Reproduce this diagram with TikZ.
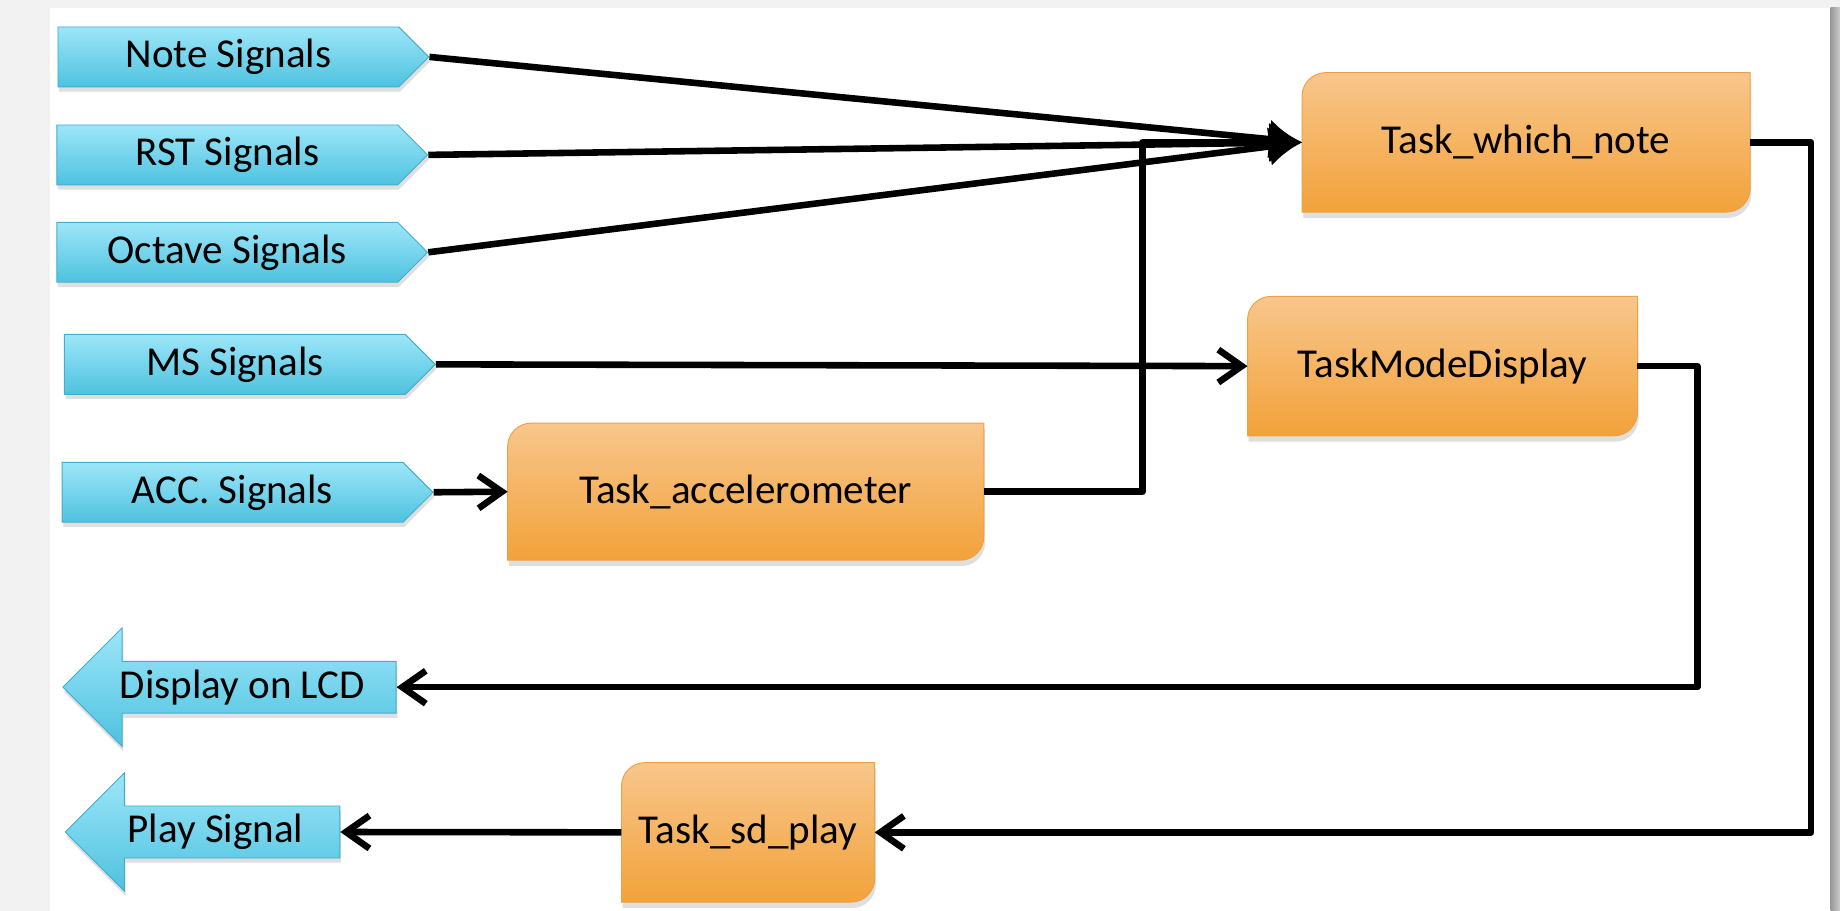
\documentclass[tikz,border=0pt]{standalone}
\usepackage{fontspec}
\setmainfont{Carlito}
\usepackage{tikz}
\usetikzlibrary{shapes.symbols,shapes.arrows,arrows.meta,shadows,backgrounds}

\definecolor{sigtop}{HTML}{9DE6F8}
\definecolor{sigbot}{HTML}{4EC2E0}
\definecolor{sigline}{HTML}{45ACCC}
\definecolor{tasktop}{HTML}{F8C68C}
\definecolor{taskbot}{HTML}{F2A23A}
\definecolor{taskline}{HTML}{EFA043}

\begin{document}
\begin{tikzpicture}[x=0.5pt,y=-0.5pt,
    nodes={font=\fontsize{17.5}{20}\selectfont},
    sig/.style={signal,signal to=east,draw=sigline,top color=sigtop,bottom color=sigbot,
        minimum width=158pt,minimum height=25.5pt,inner sep=2pt,anchor=west,
        drop shadow={shadow xshift=0.5pt,shadow yshift=-2pt,opacity=.25}},
    outarrow/.style={single arrow,shape border rotate=180,draw=sigline,top color=sigtop,bottom color=sigbot,
        single arrow head extend=12.5pt,minimum width=50.5pt,inner sep=2pt,anchor=tip,
        drop shadow={shadow xshift=0.5pt,shadow yshift=-2pt,opacity=.25}},
    task/.style={minimum height=59pt,inner sep=0pt},
    taskbg/.style={draw=taskline,top color=tasktop,bottom color=taskbot,
        drop shadow={shadow xshift=0.5pt,shadow yshift=-2.5pt,opacity=.25}},
    conn/.style={line width=2.8pt,line join=round},
    barb/.style={-{Straight Barb[length=10pt,width=14pt]}},
    fat/.style={-{Latex[length=14pt,width=17pt]}}]

    \useasboundingbox (0,0) rectangle (1568,776);

    \node[sig] (note) at (49,48.5) {Note Signals};
    \node[sig] (rst) at (48,132) {RST Signals};
    \node[sig] (oct) at (48,215) {Octave Signals};
    \node[sig] (ms) at (54.5,310.5) {MS Signals};
    \node[sig] (accs) at (52.5,419.5) {ACC. Signals};

    \node[outarrow,minimum height=142pt] (lcd) at (53,585.6) {Display on LCD};
    \node[outarrow,minimum height=117pt] (play) at (55,709) {Play Signal};

    \node[task,minimum width=190.5pt] (which) at (1300.5,121.3) {Task\_which\_note};
    \node[task,minimum width=165.75pt] (mode) at (1229.25,312) {TaskModeDisplay};
    \node[task,minimum width=202.5pt,minimum height=58pt] (acc) at (635.5,419) {Task\_accelerometer};
    \node[task,minimum width=107.5pt] (sd) at (637.5,709.3) {Task\_sd\_play};

    \begin{scope}[on background layer]
        \fill[black!5] (0,0) rectangle (1568,776);
        \fill[white] (42.6,6.8) rectangle (1560,776);
        \shade[left color=black!40,right color=black!20] (1560,6.8) rectangle (1568,776);
        \foreach \t in {which,mode,acc,sd}
            \path[taskbg] (\t.south west) -- ([yshift=-10pt]\t.north west)
                arc[start angle=180,end angle=90,radius=10pt] -- (\t.north east)
                -- ([yshift=10pt]\t.south east) arc[start angle=0,end angle=-90,radius=10pt] -- cycle;
    \end{scope}

    \draw[conn,fat] (note.east) -- (which.west);
    \draw[conn,fat] (rst.east) -- (which.west);
    \draw[conn,fat] (oct.east) -- (which.west);
    \draw[conn,fat] (acc.east) -| ([xshift=-68pt]which.west) -- (which.west);
    \draw[conn,barb] (ms.east) -- (mode.west);
    \draw[conn,barb] (accs.east) -- (acc.west);
    \draw[conn,barb] (mode.east) -- ++(25.5pt,0) |- (lcd.tail);
    \draw[conn,barb] (which.east) -- ++(26pt,0) |- (sd.east);
    \draw[conn,barb] (sd.west) -- (play.tail);
\end{tikzpicture}
\end{document}
